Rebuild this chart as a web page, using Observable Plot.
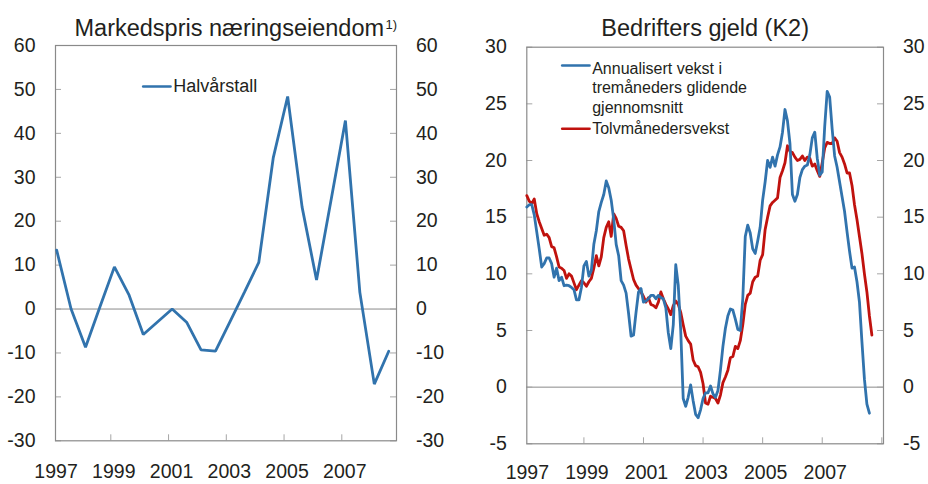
<!DOCTYPE html>
<html><head><meta charset="utf-8">
<script src="https://cdn.jsdelivr.net/npm/d3@7"></script>
<script src="https://cdn.jsdelivr.net/npm/@observablehq/plot@0.6"></script>
<style>
html,body{margin:0;padding:0;background:#fff;}
#wrap{display:flex;width:928px;height:484px;}
#wrap svg{display:block;overflow:visible;}
</style></head><body><div id="wrap"></div>
<script>
// ---------- data: left panel ----------
const leftTitle = "Markedspris næringseiendom";
const leftNote = "1)";
const leftLegend = "Halvårstall";
const halfYears = ["1997-1","1997-2","1998-1","1998-2","1999-1","1999-2","2000-1","2000-2",
  "2001-1","2001-2","2002-1","2002-2","2003-1","2003-2","2004-1","2004-2",
  "2005-1","2005-2","2006-1","2006-2","2007-1","2007-2","2008-1","2008-2"];
const halfValues = [13.4,0.0,-8.7,0.5,9.6,3.3,-5.8,-2.9,0.0,-3.0,-9.3,-9.6,
  -2.9,3.8,10.6,34.4,48.4,23.2,6.6,24.7,42.9,3.8,-17.1,-9.6];
const leftYTicks = [-30,-20,-10,0,10,20,30,40,50,60];
const leftXTicks = [1999,2001,2003,2005,2007];
const leftXLabels = [1997,1999,2001,2003,2005,2007];

// ---------- data: right panel ----------
const rightTitle = "Bedrifters gjeld (K2)";
const blueLabel = "Annualisert vekst i\ntremåneders glidende\ngjennomsnitt";
const redLabel = "Tolvmånedersvekst";
const firstMonth = "1997-02";
const blueValues = [15.9,16.1,16.1,15.2,13.7,12.2,10.6,10.9,11.4,11.4,10.9,9.7,
  10.5,9.4,9.7,8.95,9.0,8.95,8.8,8.6,7.7,7.7,8.8,10.7,
  11.1,9.8,10.3,12.6,13.8,15.5,16.3,17.0,18.2,17.6,16.5,14.8,
  12.6,11.6,9.4,9.0,8.3,6.5,4.5,4.6,6.6,8.4,8.7,7.5,
  7.6,7.8,8.1,8.1,7.8,8.1,7.9,7.8,7.0,4.8,3.4,5.5,
  10.8,9.0,5.0,-1.0,-1.7,-0.9,0.2,-1.2,-2.4,-2.7,-2.0,-1.0,
  -0.5,-0.5,0.1,-0.6,-0.9,-0.3,1.5,3.6,5.2,6.3,6.9,6.8,
  6.0,5.1,5.0,7.8,13.3,14.3,13.6,12.2,11.8,12.9,14.1,16.5,
  18.1,20.0,19.4,20.3,19.5,20.5,21.2,22.5,24.5,23.5,21.5,17.0,
  16.4,17.0,18.5,19.2,19.5,19.6,20.5,22.0,22.5,20.2,18.7,19.0,
  23.0,26.1,25.6,22.8,20.4,19.4,18.1,16.8,15.5,13.7,12.0,10.5,
  10.6,9.3,7.5,4.0,0.7,-1.5,-2.3];
const redValues = [16.9,16.4,16.2,16.6,15.3,14.6,14.0,13.4,13.5,13.2,12.4,12.3,
  11.5,10.6,10.5,10.3,9.6,10.0,9.8,9.2,8.6,9.0,9.4,9.2,
  8.9,9.3,9.6,10.5,11.6,10.7,11.5,13.2,14.1,14.6,13.3,15.3,
  14.9,14.2,14.1,13.8,12.5,11.3,10.4,9.5,9.0,8.7,8.4,8.0,
  7.5,7.9,7.3,7.2,7.0,7.5,8.4,7.8,7.3,6.9,6.4,7.2,
  7.6,7.3,6.6,5.5,4.5,4.1,3.8,2.4,1.9,1.8,1.3,0.3,
  -1.4,-1.5,-0.8,-0.9,-1.0,-1.4,-0.7,0.4,0.9,1.5,2.6,2.7,
  3.6,3.4,4.1,5.5,7.3,8.1,8.3,9.3,9.7,9.8,11.2,11.7,
  13.9,15.0,16.0,16.3,16.5,16.7,18.5,19.1,19.8,21.3,20.8,20.7,
  20.3,20.0,20.1,20.4,20.0,20.3,20.2,19.5,19.7,19.1,18.6,19.8,
  21.1,21.6,21.5,21.5,22.0,21.7,20.7,20.3,19.7,18.9,18.9,17.8,
  16.1,14.8,13.3,11.8,10.0,8.4,6.3,4.6];
const rightYTicks = [-5,0,5,10,15,20,25,30];
const rightXTicks = [1999,2001,2003,2005,2007,2009];
const rightXLabels = [1997,1999,2001,2003,2005,2007];

// ---------- styling ----------
const FONT = '"Liberation Sans", Arial, Helvetica, sans-serif';
const INK = "#231f20";
const FRAME = "#8a8a8a";
const TICK = "#a6a6a6";
const BLUE = "#3173ad";
const RED = "#c0120e";
const TICKFS = 19.5;

// tables
const halfTable = halfYears.map((p, i) => {
  const [y, h] = p.split("-").map(Number);
  return {x: y + (h - 1) / 2 + 0.125, v: halfValues[i]};
});
const [fy, fm] = firstMonth.split("-").map(Number);
const monthX = i => fy + (fm - 1 + i) / 12;
const blueTable = blueValues.map((v, i) => ({x: monthX(i), v}));
const redTable = redValues.map((v, i) => ({x: monthX(i), v}));

const lineShape = {draw(ctx, l) { ctx.moveTo(0, 0); ctx.lineTo(0, -l); }};

function panel(cfg) {
  const W = 464, H = 484;
  const fw = W - cfg.ml - cfg.mr, fh = H - cfg.mt - cfg.mb;
  const marks = [
    Plot.ruleY([0], {stroke: FRAME, strokeWidth: 1}),
    Plot.tickY(cfg.yTicks, {y: d => d, insetRight: fw - 6, stroke: TICK}),
    Plot.tickY(cfg.yTicks, {y: d => d, insetLeft: fw - 6, stroke: TICK}),
    Plot.tickX(cfg.xTicks, {x: d => d, insetTop: fh - 6, stroke: TICK}),
    Plot.frame({stroke: FRAME, strokeWidth: 1.2}),
    Plot.text(cfg.yTicks, {y: d => d, frameAnchor: "left", dx: -20, textAnchor: "end", lineAnchor: "middle", text: d => String(d), fontSize: TICKFS, fill: INK}),
    Plot.text(cfg.yTicks, {y: d => d, frameAnchor: "right", dx: 19.5, textAnchor: "start", lineAnchor: "middle", text: d => String(d), fontSize: TICKFS, fill: INK}),
    Plot.text(cfg.xLabels, {x: d => d, frameAnchor: "bottom", dy: cfg.labelDy, dx: 3, lineAnchor: "top", text: d => String(d), fontSize: TICKFS, fill: INK}),
    ...cfg.extra
  ];
  return Plot.plot({
    width: W, height: H,
    marginLeft: cfg.ml, marginRight: cfg.mr, marginTop: cfg.mt, marginBottom: cfg.mb,
    x: {domain: cfg.xDomain, axis: null},
    y: {domain: cfg.yDomain, axis: null},
    style: {fontFamily: FONT, background: "white", overflow: "visible"},
    marks
  });
}

const left = panel({
  ml: 55, mr: 68, mt: 45, mb: 43.7, labelDy: 23.5,
  xDomain: [1997.085, 2008.894], yDomain: [-30, 60],
  yTicks: leftYTicks, xTicks: leftXTicks, xLabels: leftXLabels,
  extra: [
    Plot.line(halfTable, {x: "x", y: "v", stroke: BLUE, strokeWidth: 2.8, strokeLinejoin: "miter"}),
    Plot.text([leftTitle], {frameAnchor: "top-left", dx: 19, dy: -10, lineAnchor: "bottom", textAnchor: "start", fontSize: 23.5, fill: INK}),
    Plot.text([leftNote], {frameAnchor: "top-left", dx: 330, dy: -17, lineAnchor: "bottom", textAnchor: "start", fontSize: 13, fill: INK}),
    Plot.vector([0], {frameAnchor: "top-left", dx: 87.7, dy: 41, length: 27.3, rotate: 90, anchor: "start", shape: lineShape, stroke: BLUE, strokeWidth: 2.6}),
    Plot.text([leftLegend], {frameAnchor: "top-left", dx: 117.7, dy: 41, lineAnchor: "middle", textAnchor: "start", fontSize: 18, fill: INK})
  ]
});

const right = panel({
  ml: 62.3, mr: 45, mt: 46.7, mb: 40.7, labelDy: 21.5,
  xDomain: [1997.083, 2009.057], yDomain: [-5, 30],
  yTicks: rightYTicks, xTicks: rightXTicks, xLabels: rightXLabels,
  extra: [
    Plot.line(redTable, {x: "x", y: "v", stroke: RED, strokeWidth: 2.8}),
    Plot.line(blueTable, {x: "x", y: "v", stroke: BLUE, strokeWidth: 2.8}),
    Plot.text([rightTitle], {frameAnchor: "top", dy: -11.7, lineAnchor: "bottom", fontSize: 23.5, fill: INK}),
    Plot.vector([0], {frameAnchor: "top-left", dx: 35.4, dy: 18.3, length: 27.3, rotate: 90, anchor: "start", shape: lineShape, stroke: BLUE, strokeWidth: 2.6}),
    Plot.text([blueLabel], {frameAnchor: "top-left", dx: 65.4, dy: 12.7, lineAnchor: "top", lineHeight: 1.22, textAnchor: "start", fontSize: 16, fill: INK}),
    Plot.vector([0], {frameAnchor: "top-left", dx: 35.4, dy: 81.6, length: 27.3, rotate: 90, anchor: "start", shape: lineShape, stroke: RED, strokeWidth: 2.6}),
    Plot.text([redLabel], {frameAnchor: "top-left", dx: 65.4, dy: 81.6, lineAnchor: "middle", textAnchor: "start", fontSize: 16, fill: INK})
  ]
});

const wrap = document.getElementById("wrap");
wrap.appendChild(left);
wrap.appendChild(right);
</script></body></html>
